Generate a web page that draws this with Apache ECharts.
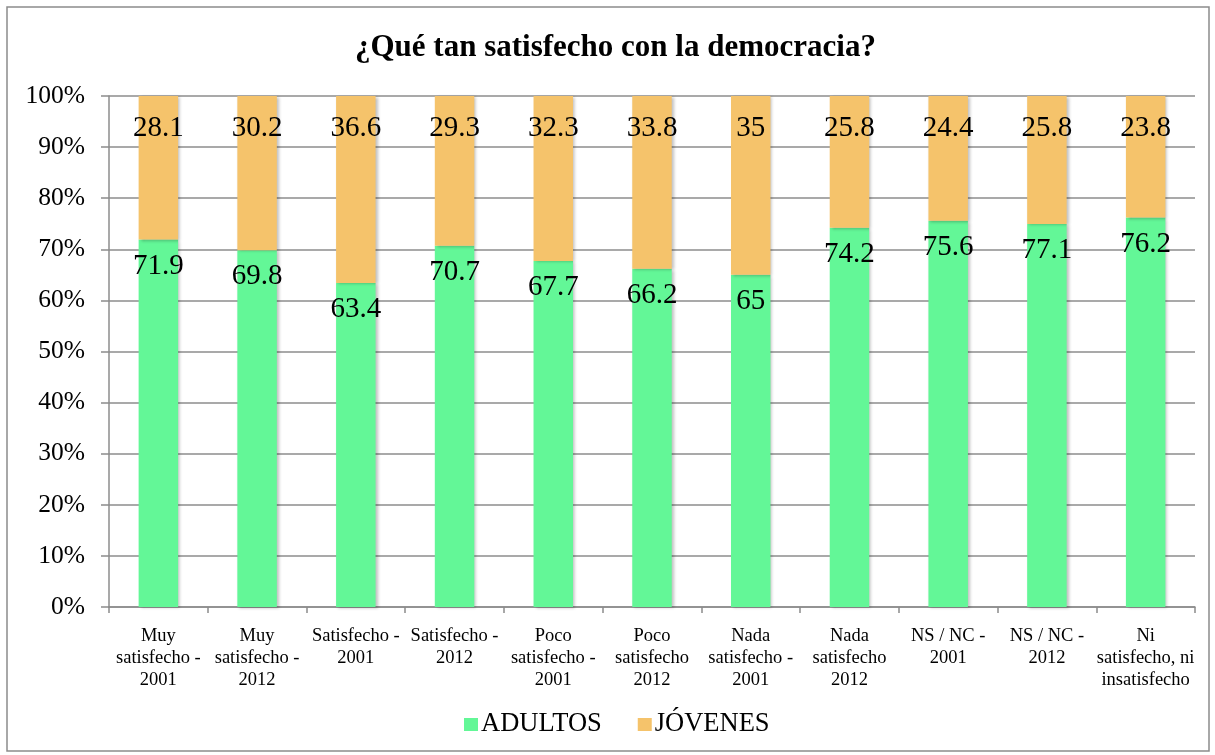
<!DOCTYPE html>
<html>
<head>
<meta charset="utf-8">
<script src="https://cdn.jsdelivr.net/npm/echarts@6/dist/echarts.min.js"></script>
<style>
  html, body { margin: 0; padding: 0; background: #fff; }
  #chart { width: 1215px; height: 755px; }
</style>
</head>
<body>
<div id="chart"></div>
<script>
// categorias del eje x
const categorias = [
  "Muy\nsatisfecho -\n2001",
  "Muy\nsatisfecho -\n2012",
  "Satisfecho -\n2001",
  "Satisfecho -\n2012",
  "Poco\nsatisfecho -\n2001",
  "Poco\nsatisfecho\n2012",
  "Nada\nsatisfecho -\n2001",
  "Nada\nsatisfecho\n2012",
  "NS / NC -\n2001",
  "NS / NC -\n2012",
  "Ni\nsatisfecho, ni\ninsatisfecho"
];
const adultos = [71.9, 69.8, 63.4, 70.7, 67.7, 66.2, 65, 74.2, 75.6, 77.1, 76.2];
const jovenes = [28.1, 30.2, 36.6, 29.3, 32.3, 33.8, 35, 25.8, 24.4, 25.8, 23.8];
const yTicks = [0, 10, 20, 30, 40, 50, 60, 70, 80, 90, 100];

const fuente = "'Liberation Serif', 'Times New Roman', serif";

// apilado al 100%: cada barra se normaliza a su total, la etiqueta muestra el valor original
const pct = (arr, i) => (arr[i] / (adultos[i] + jovenes[i])) * 100;
const serie = (arr) => arr.map((v, i) => ({ value: pct(arr, i), raw: v }));

const sombra = {
  shadowColor: "rgba(0,0,0,0.25)",
  shadowBlur: 3,
  shadowOffsetX: 2,
  shadowOffsetY: 1
};

const chart = echarts.init(document.getElementById("chart"));
chart.setOption({
  animation: false,
  title: {
    text: "¿Qué tan satisfecho con la democracia?",
    left: 350,
    top: 27,
    textStyle: { fontFamily: fuente, fontSize: 31, fontWeight: "bold", color: "#000" }
  },
  graphic: [
    {
      type: "rect",
      shape: { x: 7, y: 7, width: 1202, height: 744 },
      style: { fill: "none", stroke: "#8c8c8c", lineWidth: 1.5 },
      silent: true
    }
  ],
  legend: {
    top: 706,
    left: 459,
    itemWidth: 14,
    itemHeight: 13,
    itemGap: 36,
    icon: "rect",
    textStyle: { fontFamily: fuente, fontSize: 26.5, color: "#000", padding: [0, 0, 0, -2] },
    data: ["ADULTOS", "JÓVENES"]
  },
  grid: { left: 109, right: 20, top: 96, bottom: 148 },
  xAxis: {
    type: "category",
    data: categorias,
    axisLine: { lineStyle: { color: "#8c8c8c", width: 1.5 } },
    axisTick: { show: true, length: 6, lineStyle: { color: "#8c8c8c", width: 1.5 } },
    axisLabel: {
      interval: 0,
      margin: 18,
      fontFamily: fuente,
      fontSize: 18.5,
      lineHeight: 22,
      color: "#000"
    }
  },
  yAxis: {
    type: "value",
    min: yTicks[0],
    max: yTicks[yTicks.length - 1],
    interval: 10,
    axisLine: { show: true, lineStyle: { color: "#8c8c8c", width: 1.5 } },
    axisTick: { show: true, length: 8, lineStyle: { color: "#8c8c8c", width: 1.5 } },
    axisLabel: {
      formatter: "{value}%",
      margin: 24,
      fontFamily: fuente,
      fontSize: 25.5,
      color: "#000"
    },
    splitLine: { show: true, lineStyle: { color: "#8c8c8c", width: 1.5 } }
  },
  series: [
    {
      name: "ADULTOS",
      type: "bar",
      stack: "total",
      barWidth: "40%",
      data: serie(adultos),
      itemStyle: Object.assign({ color: "#63f797" }, sombra),
      label: {
        show: true,
        position: "insideTop",
        distance: 12,
        fontFamily: fuente,
        fontSize: 29,
        color: "#000",
        formatter: (p) => String(p.data.raw)
      }
    },
    {
      name: "JÓVENES",
      type: "bar",
      stack: "total",
      barWidth: "40%",
      data: serie(jovenes),
      itemStyle: Object.assign({ color: "#f5c36b" }, sombra),
      label: {
        show: true,
        position: "insideTop",
        distance: 18,
        fontFamily: fuente,
        fontSize: 29,
        color: "#000",
        formatter: (p) => String(p.data.raw)
      }
    }
  ]
});
</script>
</body>
</html>
